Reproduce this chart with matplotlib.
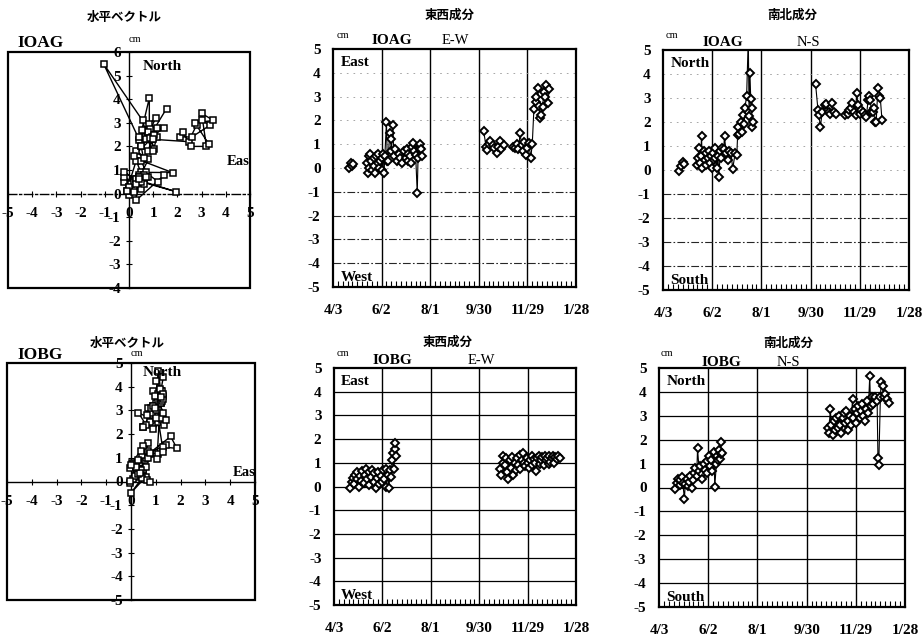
import numpy as np
import matplotlib
matplotlib.use("Agg")
import matplotlib.pyplot as plt
from matplotlib.patches import Rectangle

SERIF = ["Liberation Serif", "DejaVu Serif"]
JP = ["Noto Sans CJK JP", "DejaVu Sans"]
plt.rcParams['font.family'] = SERIF
plt.rcParams['axes.unicode_minus'] = False

# ---------------- data ----------------
date_ticks = [0, 60, 120, 180, 240, 300]          # days since 4/3
date_labels = ["4/3", "6/2", "8/1", "9/30", "11/29", "1/28"]

# IOAG (None = gap in the record)
ioag_day = [20, 22, 24, 25, None,
            42, 43, 44, 45, 46, 47, 48, 50, 51, 52, 53, 55, 56, 57, 58, 60, 61, 62, 63, 64,
            66, 67, 68, 70, 71, 72, 74, 75, 77, 79, 81, 83, 85,
            88, 90, 91, 92, 93, 95, 96, 98, 99, 100, 102, 104, 105, 106, 107, 108, 109, 110, None,
            186, 189, 190, 192, 194, 197, 199, 202, 204, 206, 208, 211, None,
            222, 225, 227, 229, 231, 233, 235, 236, 238, 240, 242, 244, 246,
            248, 250, 251, 253, 254, 256, 257, 259, 260, 262, 263, 265, 267]
ioag_ew = [0.0, 0.2, 0.1, 0.15, None,
           0.2, -0.2, 0.5, 0.0, 0.6, 0.3, -0.1, 0.4, 0.1, -0.2, 0.5, 0.2, 0.6, 0.0, 0.3, -0.1, 0.4, 0.6, -0.2, 0.5,
           1.95, 0.3, 0.3, 1.46, 1.2, 0.7, 1.8, 0.5, 0.8, 0.3, 0.6, 0.4, 0.2,
           0.7, 0.4, 0.8, 0.3, 0.6, 0.5, 0.2, 0.9, 1.05, 0.7, 0.56, -1.05, 0.43, 0.84, 0.84, 1.0, 0.8, 0.5, None,
           1.55, 0.9, 0.75, 1.0, 1.15, 0.95, 0.85, 0.65, 0.9, 1.15, 0.8, 0.95, None,
           0.9, 0.85, 1.0, 0.8, 1.45, 0.95, 0.7, 1.1, 0.55, 0.85, 1.05, 0.4, 1.0,
           2.46, 2.79, 3.0, 3.35, 2.6, 2.09, 2.23, 2.58, 3.2, 3.0, 3.49, 2.72, 3.3]
ioag_ns = [-0.05, 0.15, 0.35, 0.25, None,
           0.2, 0.5, 0.9, 0.3, 0.6, 1.4, 0.1, 0.8, 0.4, 0.7, 0.2, 0.5, 0.8, 0.3, 0.6, 0.1, 0.7, 0.4, 0.9, 0.5,
           0.08, 0.6, -0.28, 0.79, 0.5, 0.9, 0.89, 1.4, 0.7, 0.4, 0.8, 0.7, 0.05,
           0.7, 0.62, 1.45, 1.8, 1.5, 2.0, 1.6, 2.3, 1.9, 2.6, 3.1, 5.5, 2.27, 4.05, 2.97, 2.6, 1.8, 2.0, None,
           3.6, 2.5, 2.3, 1.8, 2.4, 2.7, 2.75, 2.4, 2.35, 2.8, 2.4, 2.35, None,
           2.3, 2.35, 2.5, 2.6, 2.8, 2.4, 2.3, 3.2, 2.7, 2.35, 2.5, 2.4, 2.3,
           2.2, 2.9, 3.1, 2.9, 2.4, 2.4, 2.6, 2.0, 2.0, 3.4, 3.1, 3.0, 2.1]

# IOBG
iobg_day = [20, 22, 23, 25, 26, 28, 29, 31, 32, 34, 35, 37, 38, 40, 41, 43, 44, 46, 47, 49, 50,
            52, 53, 55, 56, 58, 59, 61, 62, 64, 65, 67, 68, 70, 71, 72, 73, 74, 75, 76, 77, None,
            206, 207, 209, 210, 212, 213, 215, 216, 218, 219, 221, 222, 224, 225, 227, 228, 230, 231,
            233, 234, 236, 237, 239, 240, 242, 243, 245, 246, 248, 249, 251, 252, 254, 255, 257, 258,
            260, 261, 263, 264, 266, 267, 268, 270, 271, 273, 274, 276, 278, 280]
iobg_ew = [-0.05, 0.2, 0.35, 0.1, 0.5, 0.3, 0.6, 0.0, 0.45, 0.25, 0.65, 0.15, 0.5, 0.75, 0.3, 0.6, 0.05,
           0.4, 0.7, 0.2, 0.55, -0.05, 0.35, 0.6, 0.1, 0.45, 0.2, 0.7, 0.3, 0.75, 0.0, 0.5, -0.05,
           0.7, 0.4, 1.1, 1.4, 0.75, 1.6, 1.85, 1.3, None,
           0.75, 0.5, 1.0, 1.3, 0.9, 1.2, 0.6, 0.3, 1.1, 0.8, 1.25, 0.5, 1.0, 0.7, 1.2, 0.9, 1.35, 0.75,
           1.1, 1.4, 1.0, 0.85, 1.2, 1.0, 0.8, 1.1, 1.3, 0.9, 1.15, 1.0, 0.65, 1.2, 1.3, 0.95, 1.1, 1.25,
           0.9, 1.3, 1.1, 1.2, 0.95, 1.3, 1.05, 1.2, 1.3, 1.0, 1.25, 1.15, 1.3, 1.2]
iobg_ns = [-0.05, 0.2, 0.35, 0.1, 0.3, 0.45, 0.2, -0.48, 0.15, 0.35, 0.05, 0.25, 0.5, 0.0, 0.3, 0.6, 0.8,
           0.5, 1.64, 0.7, 0.9, 0.55, 0.35, 1.0, 0.75, 1.1, 0.6, 1.3, 0.9, 1.15, 0.7, 1.5, 0.03,
           1.0, 1.3, 1.15, 1.55, 1.2, 1.9, 1.4, 1.45, None,
           2.5, 2.3, 3.3, 2.6, 2.2, 2.8, 2.4, 2.9, 2.5, 3.0, 2.6, 2.3, 2.9, 3.1, 2.7, 3.2, 2.4, 2.8,
           3.0, 2.6, 3.7, 2.9, 3.3, 2.7, 3.1, 3.4, 2.9, 3.2, 3.5, 3.0, 2.8, 3.3, 3.6, 3.1, 4.65, 3.4,
           3.8, 3.5, 3.7, 3.8, 3.6, 1.25, 0.95, 3.8, 4.4, 4.25, 3.8, 3.9, 3.7, 3.55]


def arr(v):
    return np.array([np.nan if x is None else x for x in v], dtype=float)


def style_ticklabels(ax, size=11):
    for lab in ax.get_xticklabels() + ax.get_yticklabels():
        lab.set_fontfamily(SERIF)
        lab.set_fontweight('bold')
        lab.set_fontsize(size)


def ts_panel(ax, days, vals, full_grid, top_word, bottom_word):
    ax.set_xlim(0, 300)
    ax.set_ylim(-5, 5)
    for d in date_ticks[1:-1]:
        ax.axvline(d, color='k', lw=1.0, zorder=1)
    if full_grid:
        for y in range(-4, 5):
            ax.axhline(y, color='k', lw=0.9, zorder=1)
    else:
        for y in range(-4, 0):
            ax.axhline(y, color='0.15', lw=0.8, ls=(0, (7, 2, 1.5, 2)), zorder=1)
        for y in range(0, 5):
            ax.axhline(y, color='0.6', lw=0.6, ls=(0, (2, 6)), zorder=1)
    ax.plot(arr(days), arr(vals), '-', color='k', lw=0.8, marker='D', ms=4.4,
            mfc='white', mec='k', mew=1.4, zorder=3)
    ax.set_xticks(date_ticks)
    ax.set_xticklabels(date_labels)
    ax.set_xticks(np.arange(0, 301, 6), minor=True)
    ax.tick_params(axis='x', which='major', length=0, pad=12)
    ax.tick_params(axis='x', which='minor', direction='in', length=4, width=0.8)
    ax.set_yticks(range(-5, 6))
    ax.tick_params(axis='y', length=0, pad=9)
    for s in ax.spines.values():
        s.set_linewidth(1.6)
    style_ticklabels(ax)
    ax.text(0.03, 0.945, top_word, transform=ax.transAxes, fontsize=11,
            fontweight='bold', va='center', ha='left', family=SERIF)
    ax.text(0.03, 0.04, bottom_word, transform=ax.transAxes, fontsize=11,
            fontweight='bold', va='center', ha='left', family=SERIF)


def vec_panel(ax, ew, ns, ymin, ymax, dashed_x):
    ax.set_xlim(-5, 5)
    ax.set_ylim(ymin, ymax)
    ax.plot(arr(ew), arr(ns), '-', color='k', lw=1.0, marker='s', ms=4.4,
            mfc='white', mec='k', mew=1.1, zorder=3)
    ax.spines['left'].set_position(('data', 0))
    ax.spines['bottom'].set_position(('data', 0))
    ax.spines['top'].set_visible(False)
    ax.spines['right'].set_visible(False)
    ax.spines['left'].set_linewidth(1.0)
    ax.spines['bottom'].set_linewidth(1.0)
    if dashed_x:
        ax.spines['bottom'].set_linestyle((0, (6, 2, 1.5, 2)))
    ax.add_patch(Rectangle((0, 0), 1, 1, transform=ax.transAxes, fill=False,
                           lw=1.6, ec='k', clip_on=False, zorder=4))
    ax.set_xticks(range(-5, 6))
    ax.set_yticks(range(ymin, ymax + 1))
    ax.tick_params(axis='x', direction='inout', length=4, width=0.8, pad=8)
    ax.tick_params(axis='y', direction='inout', length=4, width=0.8, pad=4)
    style_ticklabels(ax)


fig = plt.figure(figsize=(9.23, 6.39), dpi=100)
W, H = 923.0, 639.0


def box(x0, y0, x1, y1):
    return [x0 / W, 1 - y1 / H, (x1 - x0) / W, (y1 - y0) / H]


def ftext(x, y, s, **kw):
    fig.text(x / W, 1 - y / H, s, **kw)


# ---- top row (IOAG) ----
ax1 = fig.add_axes(box(8, 52, 250, 288))
vec_panel(ax1, ioag_ew, ioag_ns, -4, 6, True)
ax1.text(0.555, 0.94, "North", transform=ax1.transAxes, fontsize=11,
         fontweight='bold', va='center', family=SERIF)
ax1.text(0.905, 0.534, "East", transform=ax1.transAxes, fontsize=10.5,
         fontweight='bold', va='center', family=SERIF, clip_on=True)

ax2 = fig.add_axes(box(333, 49, 576, 287))
ts_panel(ax2, ioag_day, ioag_ew, False, "East", "West")

ax3 = fig.add_axes(box(663, 50, 909, 290))
ts_panel(ax3, ioag_day, ioag_ns, False, "North", "South")

# ---- bottom row (IOBG) ----
ax4 = fig.add_axes(box(7, 363, 255, 600))
vec_panel(ax4, iobg_ew, iobg_ns, -5, 5, False)
ax4.text(0.548, 0.958, "North", transform=ax4.transAxes, fontsize=11,
         fontweight='bold', va='center', family=SERIF)
ax4.text(0.911, 0.54, "East", transform=ax4.transAxes, fontsize=10.5,
         fontweight='bold', va='center', family=SERIF, clip_on=True)

ax5 = fig.add_axes(box(334, 368, 576, 605))
ts_panel(ax5, iobg_day, iobg_ew, True, "East", "West")

ax6 = fig.add_axes(box(659, 368, 905, 607))
ts_panel(ax6, iobg_day, iobg_ns, True, "North", "South")

# ---- titles and labels ----
jp = dict(family=JP, fontweight='bold', fontsize=9, ha='center', va='center')
ftext(124, 17, "水平ベクトル", **jp)
ftext(450, 15, "東西成分", **jp)
ftext(792, 15, "南北成分", **jp)
ftext(127, 343, "水平ベクトル", **jp)
ftext(448, 342, "東西成分", **jp)
ftext(788, 343, "南北成分", **jp)

big = dict(family=SERIF, fontweight='bold', va='center', ha='left')
ftext(17, 43, "IOAG", fontsize=12.5, **big)
ftext(17, 355, "IOBG", fontsize=12.5, **big)
ftext(372, 41, "IOAG", fontsize=11, **big)
ftext(703, 43, "IOAG", fontsize=11, **big)
ftext(373, 360, "IOBG", fontsize=11, **big)
ftext(702, 362, "IOBG", fontsize=11, **big)

reg = dict(family=SERIF, fontweight='normal', va='center', ha='left')
ftext(442, 41, "E-W", fontsize=10.5, **reg)
ftext(797, 43, "N-S", fontsize=10.5, **reg)
ftext(468, 360, "E-W", fontsize=10.5, **reg)
ftext(777, 362, "N-S", fontsize=10.5, **reg)

cm = dict(family=SERIF, fontweight='normal', fontsize=7.5, va='center', ha='center')
ftext(135, 39, "cm", **cm)
ftext(343, 36, "cm", **cm)
ftext(672, 35, "cm", **cm)
ftext(137, 354, "cm", **cm)
ftext(343, 353, "cm", **cm)
ftext(667, 353, "cm", **cm)

fig.savefig("out.png", dpi=100, facecolor='white')
